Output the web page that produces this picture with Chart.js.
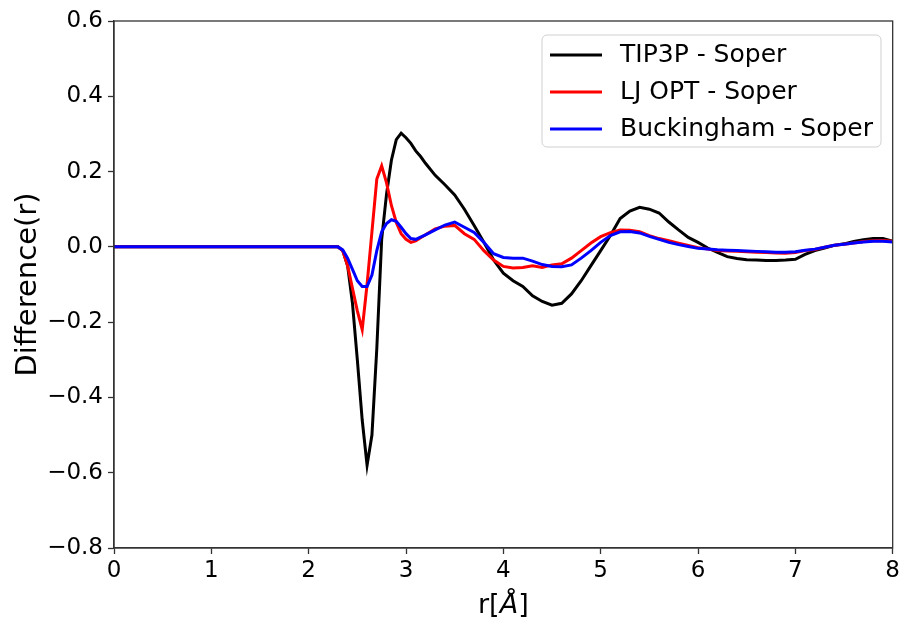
<!DOCTYPE html>
<html>
<head>
<meta charset="utf-8">
<script src="https://cdn.jsdelivr.net/npm/chart.js@4/dist/chart.umd.min.js"></script>
<style>
html,body{margin:0;padding:0;background:#fff;}
#wrap{width:903px;height:621px;position:relative;}
</style>
</head>
<body>
<div id="wrap"><canvas id="c" width="903" height="621"></canvas></div>
<script>
// r grid (Å)
const rValues = [0, 0.5, 1.0, 1.5, 2.0, 2.2, 2.3,
  2.35, 2.4, 2.45, 2.5, 2.55, 2.6, 2.65, 2.7, 2.75, 2.8, 2.85, 2.9, 2.95, 3.0, 3.05, 3.1, 3.15, 3.2,
  3.3, 3.4, 3.5, 3.6, 3.7, 3.8, 3.9, 4.0, 4.1, 4.2, 4.3, 4.4, 4.5, 4.6, 4.7, 4.8, 4.9, 5.0,
  5.1, 5.2, 5.3, 5.4, 5.5, 5.6, 5.7, 5.8, 5.9, 6.0, 6.1, 6.2, 6.3, 6.4, 6.5, 6.6, 6.7, 6.8,
  6.9, 7.0, 7.1, 7.2, 7.3, 7.4, 7.5, 7.6, 7.7, 7.8, 7.9, 8.0];

const tip3p = [0, 0, 0, 0, 0, 0, 0,
  -0.01, -0.05, -0.15, -0.30, -0.46, -0.58, -0.50, -0.27, 0.02, 0.14, 0.23, 0.285, 0.302, 0.29, 0.275, 0.255, 0.24, 0.222,
  0.19, 0.165, 0.138, 0.10, 0.057, 0.012, -0.035, -0.07, -0.09, -0.105, -0.13, -0.145, -0.155, -0.15, -0.125, -0.09, -0.05, -0.01,
  0.03, 0.075, 0.095, 0.105, 0.10, 0.09, 0.066, 0.045, 0.025, 0.012, -0.003, -0.015, -0.026, -0.031, -0.034, -0.035, -0.036, -0.036,
  -0.035, -0.033, -0.02, -0.01, -0.003, 0.004, 0.008, 0.014, 0.019, 0.022, 0.022, 0.015];

const ljOpt = [0, 0, 0, 0, 0, 0, 0,
  -0.01, -0.05, -0.11, -0.17, -0.22, -0.10, 0.04, 0.18, 0.215, 0.17, 0.11, 0.065, 0.035, 0.02, 0.012, 0.016, 0.024, 0.032,
  0.048, 0.055, 0.057, 0.035, 0.02, -0.01, -0.035, -0.052, -0.056, -0.055, -0.05, -0.055, -0.048, -0.045, -0.03, -0.01, 0.01, 0.027,
  0.038, 0.045, 0.044, 0.04, 0.03, 0.022, 0.016, 0.01, 0.004, -0.002, -0.006, -0.01, -0.011, -0.012, -0.013, -0.014, -0.015, -0.016,
  -0.017, -0.015, -0.01, -0.007, -0.001, 0.004, 0.007, 0.01, 0.014, 0.016, 0.017, 0.015];

const buckingham = [0, 0, 0, 0, 0, 0, 0,
  -0.008, -0.03, -0.06, -0.09, -0.105, -0.105, -0.075, -0.01, 0.04, 0.062, 0.072, 0.068, 0.052, 0.035, 0.022, 0.02, 0.026, 0.032,
  0.045, 0.058, 0.066, 0.052, 0.038, 0.012, -0.018, -0.028, -0.03, -0.03, -0.038, -0.047, -0.052, -0.053, -0.048, -0.03, -0.01, 0.012,
  0.03, 0.04, 0.041, 0.037, 0.028, 0.02, 0.012, 0.006, 0.001, -0.004, -0.006, -0.008, -0.009, -0.01, -0.011, -0.012, -0.013, -0.014,
  -0.014, -0.013, -0.009, -0.006, -0.001, 0.004, 0.007, 0.01, 0.013, 0.015, 0.015, 0.013];

const seriesNames = ['TIP3P - Soper', 'LJ OPT - Soper', 'Buckingham - Soper'];
const xTicks = [0, 1, 2, 3, 4, 5, 6, 7, 8];
const yTicks = [-0.8, -0.6, -0.4, -0.2, 0.0, 0.2, 0.4, 0.6];
const yTitle = 'Difference(r)';
const xTitleParts = ['r[', 'Å', ']'];

const colors = ['#000000', '#ff0000', '#0000ff'];
const FONT = '"DejaVu Sans", sans-serif';

function pts(arr){ return rValues.map((r,i)=>({x:r, y:arr[i]})); }

const framePlugin = {
  id: 'frame',
  afterDraw(chart){
    const ctx = chart.ctx, a = chart.chartArea;
    ctx.save();
    ctx.strokeStyle = '#333';
    ctx.lineWidth = 1.3;
    ctx.strokeRect(a.left, a.top, a.right - a.left, a.bottom - a.top);
    // legend box
    const bx = 542, by = 35, bw = 339, bh = 112, rad = 5;
    ctx.fillStyle = 'rgba(255,255,255,0.85)';
    ctx.strokeStyle = '#d0d0d0';
    ctx.lineWidth = 1;
    ctx.beginPath();
    ctx.roundRect(bx, by, bw, bh, rad);
    ctx.fill(); ctx.stroke();
    const rows = [55, 92, 129];
    ctx.font = '25px ' + FONT;
    ctx.textBaseline = 'middle';
    ctx.textAlign = 'left';
    seriesNames.forEach((n,i)=>{
      ctx.strokeStyle = colors[i];
      ctx.lineWidth = 3;
      ctx.beginPath();
      ctx.moveTo(550, rows[i]); ctx.lineTo(602, rows[i]);
      ctx.stroke();
      ctx.fillStyle = '#000';
      ctx.fillText(n, 620, rows[i]);
    });
    // x title with italic Å
    const f1 = '27px ' + FONT, f2 = 'italic 27px ' + FONT;
    ctx.font = f1; const w0 = ctx.measureText(xTitleParts[0]).width;
    const w2 = ctx.measureText(xTitleParts[2]).width;
    ctx.font = f2; const w1 = ctx.measureText(xTitleParts[1]).width;
    const total = w0 + w1 + w2;
    let x = (a.left + a.right) / 2 - total / 2;
    const y = 606;
    ctx.fillStyle = '#000';
    ctx.font = f1; ctx.fillText(xTitleParts[0], x, y); x += w0;
    ctx.font = f2; ctx.fillText(xTitleParts[1], x, y); x += w1;
    ctx.font = f1; ctx.fillText(xTitleParts[2], x, y);
    ctx.restore();
  }
};

new Chart(document.getElementById('c'), {
  type: 'line',
  data: {
    datasets: [
      {label: seriesNames[0], data: pts(tip3p), borderColor: colors[0], borderWidth: 3, pointRadius: 0, tension: 0, order: 3},
      {label: seriesNames[1], data: pts(ljOpt), borderColor: colors[1], borderWidth: 3, pointRadius: 0, tension: 0, order: 2},
      {label: seriesNames[2], data: pts(buckingham), borderColor: colors[2], borderWidth: 3, pointRadius: 0, tension: 0, order: 1}
    ]
  },
  options: {
    responsive: false,
    animation: false,
    layout: {padding: {top: 21, right: 10, left: 0, bottom: 0}},
    plugins: {legend: {display: false}, tooltip: {enabled: false}},
    scales: {
      x: {
        type: 'linear', min: 0, max: 8,
        afterBuildTicks: s => { s.ticks = xTicks.map(v => ({value: v})); },
        afterFit: s => { s.height = 73; },
        grid: {drawOnChartArea: false, drawTicks: true, tickLength: 6, color: '#333', tickWidth: 1.3},
        border: {display: true, color: '#333', width: 1.3},
        ticks: {color: '#000', font: {family: FONT, size: 23}, padding: 3, maxRotation: 0, callback: v => String(v)}
      },
      y: {
        type: 'linear', min: -0.8, max: 0.6,
        afterBuildTicks: s => { s.ticks = yTicks.map(v => ({value: v})); },
        afterFit: s => { s.width = 114; },
        grid: {drawOnChartArea: false, drawTicks: true, tickLength: 6, color: '#333', tickWidth: 1.3},
        border: {display: true, color: '#333', width: 1.3},
        ticks: {color: '#000', font: {family: FONT, size: 23}, padding: 5,
          callback: v => v.toFixed(1).replace('-', '\u2212')},
        title: {display: true, text: yTitle, color: '#000', font: {family: FONT, size: 29}, padding: {top: 11, bottom: 0}}
      }
    }
  },
  plugins: [framePlugin]
});
</script>
</body>
</html>
